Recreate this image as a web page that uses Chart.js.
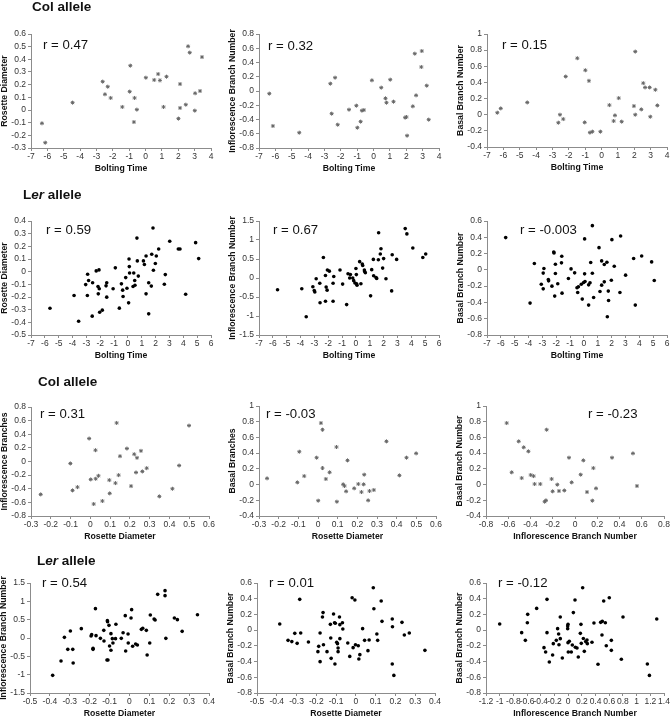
<!DOCTYPE html>
<html>
<head>
<meta charset="utf-8">
<script src="https://cdn.jsdelivr.net/npm/chart.js@4.4.1/dist/chart.umd.min.js"></script>
<style>
  html, body { margin: 0; padding: 0; background: #fff; overflow: hidden; }
  #page { position: relative; width: 670px; height: 718px; font-family: "Liberation Sans", Arial, sans-serif; }
  #page canvas { position: absolute; }
  .head { position: absolute; font-weight: bold; font-size: 13.5px; color: #111; white-space: nowrap; line-height: 1; }
  .rval { position: absolute; font-size: 13.2px; color: #111; white-space: nowrap; line-height: 1; }
</style>
</head>
<body>
<div id="page"></div>
<script>
const FONT = '"Liberation Sans", Arial, sans-serif';

// tick values
const boltColTicks = [-7, -6, -5, -4, -3, -2, -1, 0, 1, 2, 3, 4];
const boltLerTicks = [-7, -6, -5, -4, -3, -2, -1, 0, 1, 2, 3, 4, 5, 6];
const rosColTicks = [-0.3, -0.2, -0.1, 0, 0.1, 0.2, 0.3, 0.4, 0.5, 0.6];
const rosLerTicks = [-0.5, -0.4, -0.3, -0.2, -0.1, 0, 0.1, 0.2, 0.3, 0.4];
const infColTicks = [-0.8, -0.6, -0.4, -0.2, 0, 0.2, 0.4, 0.6, 0.8];
const infLerTicks = [-1.5, -1, -0.5, 0, 0.5, 1, 1.5];
const infLerXTicks = [-1.2, -1, -0.8, -0.6, -0.4, -0.2, 0, 0.2, 0.4, 0.6, 0.8, 1, 1.2, 1.4];
const basColTicks = [-0.4, -0.2, 0, 0.2, 0.4, 0.6, 0.8, 1];
const basLerTicks = [-0.8, -0.6, -0.4, -0.2, 0, 0.2, 0.4, 0.6];

// Col allele: bolting time vs traits
const colBoltRos = [[-6.33,-0.105],[-6.13,-0.258],[-4.46,0.058],[-2.62,0.224],[-2.48,0.124],[-2.31,0.184],[-2.13,0.095],[-1.42,0.024],[-0.97,0.145],[-0.93,0.35],[-0.67,0.095],[-0.71,-0.095],[-0.53,0.003],[0.02,0.255],[0.53,0.237],[0.77,0.284],[0.88,0.234],[1.28,0.263],[1.10,0.024],[2.01,-0.068],[2.11,0.205],[2.11,0.016],[2.46,0.042],[2.60,0.503],[2.70,0.453],[3.01,-0.005],[3.03,0.132],[3.33,0.15],[3.45,0.418]];
const colBoltInf = [[-6.37,-0.037],[-6.15,-0.491],[-4.54,-0.585],[-2.64,0.103],[-2.35,0.187],[-2.56,-0.318],[-2.19,-0.473],[-1.50,-0.262],[-1.05,-0.206],[-0.99,-0.515],[-0.79,-0.43],[-0.71,-0.276],[-0.59,-0.267],[-0.10,0.15],[0.47,0.047],[0.73,-0.103],[0.79,-0.164],[1.02,0.159],[1.22,-0.15],[1.93,-0.374],[2.01,-0.365],[2.05,-0.627],[2.40,-0.215],[2.52,0.524],[2.60,-0.061],[2.92,0.337],[2.95,0.561],[3.25,0.075],[3.37,-0.402]];
const colBoltBas = [[-6.37,0.025],[-6.16,0.078],[-4.54,0.152],[-2.64,-0.099],[-2.54,0.0],[-2.34,-0.054],[-2.19,0.473],[-1.48,0.70],[-0.99,0.551],[-1.03,-0.095],[-0.77,0.42],[-0.71,-0.222],[-0.56,-0.21],[-0.07,-0.21],[0.48,0.119],[0.74,-0.078],[0.82,-0.008],[1.05,0.206],[1.23,-0.086],[1.98,0.107],[2.06,0.0],[2.06,0.782],[2.43,0.066],[2.55,0.391],[2.66,0.338],[2.94,0.338],[2.98,-0.025],[3.29,0.309],[3.41,0.115]];

// Ler allele: bolting time vs traits
const lerBoltRos = [[-5.63,-0.289],[-3.89,-0.188],[-3.56,-0.392],[-3.05,-0.102],[-2.91,-0.02],[-2.84,-0.07],[-2.93,-0.188],[-2.55,-0.088],[-2.58,-0.351],[-2.29,0.006],[-2.09,0.014],[-2.16,-0.117],[-2.07,-0.135],[-2.14,-0.175],[-2.04,-0.32],[-1.85,-0.304],[-1.58,-0.112],[-1.53,-0.088],[-1.53,-0.201],[-1.07,-0.135],[-0.91,0.03],[-0.62,-0.288],[-0.47,-0.096],[-0.38,-0.146],[-0.35,-0.196],[-0.16,-0.047],[-0.07,-0.131],[0.05,-0.246],[0.08,0.10],[0.10,0.04],[0.12,-0.01],[0.42,-0.01],[0.49,-0.07],[0.37,-0.117],[0.51,-0.107],[0.65,0.265],[0.68,0.085],[0.75,-0.035],[1.12,0.085],[1.19,0.056],[1.31,0.124],[1.31,-0.175],[1.50,-0.088],[1.50,-0.333],[1.69,-0.114],[1.72,0.137],[1.81,0.345],[1.84,0.011],[1.98,0.064],[2.05,0.124],[2.22,0.179],[2.63,-0.099],[2.70,-0.023],[3.02,0.24],[3.64,0.179],[3.76,0.179],[4.17,-0.178],[4.89,0.229],[5.11,0.103]];
const lerBoltInf = [[-5.66,-0.31],[-3.91,-0.284],[-3.59,-1.02],[-3.11,-0.23],[-3.01,-0.33],[-2.97,-0.37],[-2.87,-0.02],[-2.61,-0.14],[-2.59,-0.65],[-2.35,0.54],[-2.20,0.066],[-2.20,-0.61],[-2.15,-0.24],[-2.08,-0.32],[-2.06,0.21],[-1.92,0.18],[-1.65,-0.14],[-1.60,0.04],[-1.65,-0.61],[-1.15,0.21],[-0.96,-0.16],[-0.67,-0.70],[-0.57,0.11],[-0.45,0.0],[-0.40,0.09],[-0.23,0.0],[-0.16,-0.07],[-0.07,-0.13],[0.0,0.25],[0.03,0.09],[0.05,-0.15],[0.08,-0.19],[0.27,0.43],[0.36,-0.15],[0.46,0.37],[0.49,0.33],[0.61,0.21],[0.63,0.17],[0.68,0.14],[1.06,-0.47],[1.14,0.22],[1.26,0.49],[1.28,0.06],[1.45,0.01],[1.50,-0.01],[1.62,0.48],[1.64,1.19],[1.76,0.63],[1.81,0.77],[1.93,0.26],[2.0,0.51],[2.17,-0.02],[2.58,-0.34],[2.62,0.61],[2.94,0.49],[3.56,1.30],[3.68,1.16],[4.11,0.79],[4.83,0.54],[5.04,0.63]];
const lerBoltBas = [[-5.65,0.396],[-3.89,-0.408],[-3.58,0.078],[-3.08,-0.176],[-2.94,-0.04],[-2.89,0.016],[-2.94,-0.233],[-2.57,-0.118],[-2.55,-0.135],[-2.31,-0.2],[-2.18,0.22],[-2.16,0.208],[-2.06,0.069],[-2.06,-0.045],[-2.11,-0.322],[-1.89,-0.171],[-1.60,0.167],[-1.62,0.086],[-1.58,-0.286],[-1.12,-0.106],[-0.93,0.012],[-0.67,-0.037],[-0.50,-0.22],[-0.45,-0.278],[-0.40,-0.208],[-0.19,-0.176],[-0.12,-0.359],[-0.02,-0.155],[0.05,0.38],[0.08,-0.143],[0.05,-0.049],[0.34,-0.433],[0.34,-0.184],[0.44,-0.159],[0.49,0.09],[0.61,-0.041],[0.61,0.543],[0.70,-0.339],[1.09,0.273],[1.16,-0.265],[1.28,0.11],[1.28,-0.188],[1.47,0.065],[1.47,-0.147],[1.66,0.094],[1.69,-0.576],[1.76,-0.261],[1.78,-0.376],[1.98,-0.127],[2.02,0.371],[2.19,0.045],[2.60,-0.278],[2.65,0.416],[3.01,-0.065],[3.59,0.139],[3.71,-0.433],[4.17,0.171],[4.89,0.098],[5.08,-0.131]];

// Col allele: trait vs trait
const colRosInf = [[-0.251,-0.483],[-0.101,-0.029],[-0.090,-0.424],[-0.065,-0.376],[-0.006,0.337],[0.002,-0.263],[0.017,-0.624],[0.026,0.166],[0.027,-0.254],[0.041,-0.21],[0.061,-0.58],[0.096,-0.273],[0.098,-0.468],[0.127,-0.317],[0.133,0.566],[0.143,-0.2],[0.150,0.078],[0.185,0.19],[0.206,-0.361],[0.222,0.107],[0.231,-0.161],[0.236,0.054],[0.256,0.156],[0.263,-0.146],[0.285,-0.098],[0.349,-0.512],[0.415,-0.4],[0.449,-0.059],[0.499,0.527]];
const colRosBas = [[-0.259,0.079],[-0.105,0.028],[-0.095,0.418],[-0.070,0.108],[-0.007,0.342],[0.001,-0.205],[0.015,0.783],[0.023,0.698],[0.023,0.21],[0.040,0.071],[0.059,0.156],[0.094,0.478],[0.096,-0.218],[0.128,0.003],[0.135,-0.018],[0.143,-0.086],[0.150,0.308],[0.184,-0.048],[0.205,0.007],[0.221,-0.095],[0.232,0.003],[0.235,0.126],[0.255,-0.201],[0.262,-0.082],[0.284,-0.069],[0.348,0.55],[0.414,0.117],[0.450,0.342],[0.499,0.397]];
const colInfBas = [[-0.614,0.783],[-0.569,0.156],[-0.506,0.55],[-0.479,0.083],[-0.461,0.474],[-0.419,0.423],[-0.398,0.122],[-0.372,0.108],[-0.363,0.007],[-0.312,0.007],[-0.255,0.698],[-0.273,-0.218],[-0.261,-0.201],[-0.210,0.071],[-0.201,-0.086],[-0.159,-0.001],[-0.144,-0.082],[-0.096,-0.075],[-0.054,0.342],[-0.030,0.028],[0.051,0.126],[0.075,0.308],[0.108,-0.095],[0.156,-0.205],[0.165,0.21],[0.189,-0.048],[0.333,0.342],[0.521,0.397],[0.557,-0.018]];

// Ler allele: trait vs trait
const lerRosInf = [[-0.386,-1.018],[-0.344,-0.627],[-0.327,0.018],[-0.310,-0.309],[-0.297,0.191],[-0.285,-0.309],[-0.283,-0.682],[-0.242,0.255],[-0.193,0.055],[-0.190,0.091],[-0.183,-0.282],[-0.183,-0.309],[-0.171,0.80],[-0.168,0.064],[-0.146,-0.009],[-0.129,0.209],[-0.128,-0.082],[-0.113,-0.6],[-0.108,-0.6],[-0.111,0.473],[-0.110,0.445],[-0.103,0.345],[-0.100,-0.218],[-0.093,-0.336],[-0.093,0.118],[-0.086,-0.018],[-0.083,-0.136],[-0.070,-0.018],[-0.068,0.373],[-0.041,-0.009],[-0.032,0.145],[-0.021,0.609],[-0.019,-0.355],[-0.007,0.109],[-0.006,-0.136],[0.008,0.545],[0.011,0.773],[0.016,-0.227],[0.031,-0.164],[0.040,-0.191],[0.060,0.236],[0.067,0.264],[0.085,0.209],[0.089,-0.464],[0.102,-0.136],[0.105,0.627],[0.124,0.518],[0.129,0.491],[0.142,1.191],[0.179,1.291],[0.179,1.155],[0.183,-0.009],[0.226,0.545],[0.241,0.5],[0.265,0.182],[0.342,0.636]];
const lerRosBas = [[-0.385,0.078],[-0.343,-0.13],[-0.324,-0.146],[-0.309,-0.041],[-0.297,-0.168],[-0.284,0.392],[-0.279,-0.037],[-0.240,-0.151],[-0.192,-0.274],[-0.188,-0.206],[-0.181,-0.037],[-0.181,-0.401],[-0.169,0.167],[-0.166,0.223],[-0.164,-0.185],[-0.146,-0.274],[-0.129,0.074],[-0.127,-0.1],[-0.125,-0.359],[-0.113,0.206],[-0.108,0.095],[-0.106,-0.431],[-0.104,0.087],[-0.097,-0.155],[-0.093,-0.172],[-0.090,-0.227],[-0.090,-0.274],[-0.083,0.167],[-0.081,0.07],[-0.081,-0.108],[-0.068,0.095],[-0.066,0.014],[-0.041,-0.164],[-0.031,-0.334],[-0.019,0.413],[-0.014,-0.223],[-0.005,0.383],[-0.002,-0.185],[0.012,-0.198],[0.015,-0.367],[0.020,-0.312],[0.034,0.019],[0.044,-0.13],[0.061,-0.261],[0.067,-0.125],[0.088,0.54],[0.091,0.273],[0.106,-0.049],[0.110,-0.13],[0.128,0.371],[0.132,0.112],[0.184,0.141],[0.185,0.044],[0.184,-0.431],[0.192,-0.576],[0.233,0.099],[0.245,-0.062],[0.270,-0.037],[0.349,-0.257]];
const lerInfBas = [[-1.0,0.078],[-0.679,-0.032],[-0.625,-0.13],[-0.591,0.201],[-0.596,0.095],[-0.460,0.277],[-0.353,-0.223],[-0.329,-0.278],[-0.309,0.392],[-0.309,-0.032],[-0.275,-0.405],[-0.227,-0.316],[-0.217,-0.172],[-0.173,-0.13],[-0.154,0.019],[-0.139,-0.049],[-0.134,-0.185],[-0.115,0.167],[-0.115,-0.108],[-0.085,-0.354],[-0.007,0.019],[-0.007,0.053],[-0.002,0.074],[-0.002,-0.159],[0.002,-0.278],[0.017,-0.142],[0.046,-0.278],[0.061,-0.189],[0.076,0.223],[0.100,0.383],[0.105,-0.218],[0.129,-0.227],[0.148,-0.342],[0.178,-0.041],[0.187,0.074],[0.192,-0.168],[0.212,0.54],[0.222,-0.106],[0.236,-0.27],[0.256,-0.146],[0.275,-0.125],[0.280,-0.172],[0.348,-0.155],[0.377,0.091],[0.436,-0.435],[0.475,0.099],[0.499,0.112],[0.494,-0.062],[0.519,0.371],[0.543,0.095],[0.557,-0.198],[0.601,0.413],[0.631,-0.13],[0.631,-0.257],[0.777,-0.371],[0.801,0.167],[1.157,-0.431],[1.187,-0.576],[1.294,0.141]];

const rLabels = ["r = 0.47", "r = 0.32", "r = 0.15", "r = 0.59", "r = 0.67", "r = -0.003",
                 "r = 0.31", "r = -0.03", "r = -0.23", "r = 0.54", "r = 0.01", "r = -0.12"];

const page = document.getElementById("page");

// plot area box [left, top, right, bottom] and r label spot [left, centerY]
const panels = [
  { pts: colBoltRos, xt: boltColTicks, yt: rosColTicks, xTitle: "Bolting Time", yTitle: "Rosette Diameter", ler: false, box: [31, 34, 211, 148], rPos: [43, 45] },
  { pts: colBoltInf, xt: boltColTicks, yt: infColTicks, xTitle: "Bolting Time", yTitle: "Inflorescence Branch Number", ler: false, box: [259, 34, 439, 148], rPos: [268, 46] },
  { pts: colBoltBas, xt: boltColTicks, yt: basColTicks, xTitle: "Bolting Time", yTitle: "Basal Branch Number", ler: false, box: [487, 34, 667, 147], rPos: [502, 45] },
  { pts: lerBoltRos, xt: boltLerTicks, yt: rosLerTicks, xTitle: "Bolting Time", yTitle: "Rosette Diameter", ler: true, box: [31, 221, 211, 335], rPos: [46, 230] },
  { pts: lerBoltInf, xt: boltLerTicks, yt: infLerTicks, xTitle: "Bolting Time", yTitle: "Inflorescence Branch Number", ler: true, box: [259, 221, 439, 335], rPos: [273, 230] },
  { pts: lerBoltBas, xt: boltLerTicks, yt: basLerTicks, xTitle: "Bolting Time", yTitle: "Basal Branch Number", ler: true, box: [487, 221, 667, 335], rPos: [520, 230] },
  { pts: colRosInf, xt: rosColTicks, yt: infColTicks, xTitle: "Rosette Diameter", yTitle: "Inflorescence Branches", ler: false, box: [31, 407, 209, 516], rPos: [40, 414] },
  { pts: colRosBas, xt: rosColTicks, yt: basColTicks, xTitle: "Rosette Diameter", yTitle: "Basal Branches", ler: false, box: [259, 406, 436, 516], rPos: [266, 414] },
  { pts: colInfBas, xt: infColTicks, yt: basColTicks, xTitle: "Inflorescence Branch Number", yTitle: "Basal Branch Number", ler: false, box: [486, 406, 664, 516], rPos: [588, 414] },
  { pts: lerRosInf, xt: rosLerTicks, yt: infLerTicks, xTitle: "Rosette Diameter", yTitle: "Inflorescence Branch Number", ler: true, box: [30, 583, 209, 693], rPos: [42, 583] },
  { pts: lerRosBas, xt: rosLerTicks, yt: basLerTicks, xTitle: "Rosette Diameter", yTitle: "Basal Branch Number", ler: true, box: [257, 583, 435, 693], rPos: [269, 583] },
  { pts: lerInfBas, xt: infLerXTicks, yt: basLerTicks, xTitle: "Inflorescence Branch Number", yTitle: "Basal Branch Number", ler: true, box: [486, 583, 664, 693], rPos: [498, 583] }
];

const headings = [
  { html: "Col allele", left: 32, cy: 7 },
  { html: "L<i>er</i> allele", left: 23, cy: 195 },
  { html: "Col allele", left: 38, cy: 382 },
  { html: "L<i>er</i> allele", left: 37, cy: 561 }
];

const PAD_L = 34, PAD_T = 12, PAD_R = 10, PAD_B = 30;

function fmt(v) {
    return String(Math.round(v * 100) / 100);
}

function axis(ticks, dir, title) {
    return {
        type: "linear",
        min: ticks[0],
        max: ticks[ticks.length - 1],
        afterBuildTicks: s => { s.ticks = ticks.map(v => ({ value: v })); },
        afterFit: s => {
            if (dir === "x") s.height = PAD_B;
            else s.width = PAD_L;
        },
        grid: { drawOnChartArea: false, drawTicks: true, tickLength: 3, color: "#8c8c8c", lineWidth: 1 },
        border: { display: true, color: "#8c8c8c", width: 1 },
        ticks: {
            autoSkip: false, maxRotation: 0, minRotation: 0,
            padding: dir === "x" ? 1 : 2,
            color: "#333",
            font: { size: 8.5, family: FONT },
            callback: v => fmt(v)
        },
        title: {
            display: true, text: title, color: "#111",
            font: { size: 8.7, weight: "bold", family: FONT },
            padding: dir === "x" ? { top: 0, bottom: 4 } : { top: 2, bottom: 0 }
        }
    };
}

function makePanel(p, i) {
    const [l, t, r, b] = p.box;
    const c = document.createElement("canvas");
    c.width = r - l + PAD_L + PAD_R;
    c.height = b - t + PAD_T + PAD_B;
    c.style.left = (l - PAD_L) + "px";
    c.style.top = (t - PAD_T) + "px";
    page.appendChild(c);

    const marker = p.ler
        ? { pointStyle: "circle", pointRadius: 1.8, pointBackgroundColor: "#000", pointBorderWidth: 0 }
        : { pointStyle: "star", pointRadius: 2, pointBorderColor: "#666", pointBorderWidth: 1 };

    new Chart(c, {
        type: "scatter",
        data: {
            datasets: [{ data: p.pts.map(([x, y]) => ({ x, y })), ...marker }]
        },
        options: {
            responsive: false,
            animation: false,
            devicePixelRatio: 1,
            events: [],
            layout: { padding: { top: PAD_T, right: PAD_R, left: 0, bottom: 0 } },
            plugins: { legend: { display: false }, tooltip: { enabled: false } },
            scales: {
                x: axis(p.xt, "x", p.xTitle),
                y: axis(p.yt, "y", p.yTitle)
            }
        }
    });

    const lab = document.createElement("div");
    lab.className = "rval";
    lab.textContent = rLabels[i];
    lab.style.left = p.rPos[0] + "px";
    lab.style.top = (p.rPos[1] - 7) + "px";
    page.appendChild(lab);
}

panels.forEach(makePanel);

headings.forEach(h => {
    const d = document.createElement("div");
    d.className = "head";
    d.innerHTML = h.html;
    d.style.left = h.left + "px";
    d.style.top = (h.cy - 7) + "px";
    page.appendChild(d);
});
</script>
</body>
</html>
